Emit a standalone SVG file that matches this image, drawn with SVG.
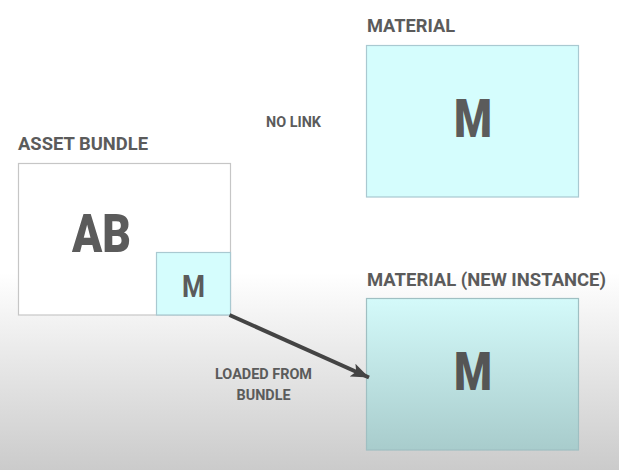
<svg xmlns="http://www.w3.org/2000/svg" width="619" height="470" viewBox="0 0 619 470">
<defs>
<linearGradient id="bg" x1="0" y1="0" x2="0" y2="470" gradientUnits="userSpaceOnUse">
<stop offset="0.58" stop-color="#ffffff"/>
<stop offset="1" stop-color="#cbcbcb"/>
</linearGradient>
<linearGradient id="newfill" x1="0" y1="0" x2="0" y2="1">
<stop offset="0" stop-color="#d4fafa"/>
<stop offset="1" stop-color="#a8cccc"/>
</linearGradient>
<marker id="arrow" markerUnits="userSpaceOnUse" markerWidth="20" markerHeight="14" refX="18" refY="7" orient="auto">
<path d="M0,0 L18,7 L0,14 L4,7 Z" fill="#444444"/>
</marker>
</defs>
<style>
.lbl{font-family:Roboto,"Liberation Sans",sans-serif;font-weight:bold;fill:#5b5b5b;}
.title{font-size:18.5px;}
.small{font-size:14px;}
.big{font-size:53px;text-anchor:middle;font-weight:900;}
.cyan{fill:#d5fdfd;stroke:#a9c9d1;stroke-width:1.2;}
.white{fill:#ffffff;stroke:#c6c6c6;stroke-width:1.2;}
</style>
<rect x="0" y="0" width="619" height="470" fill="url(#bg)"/>
<g id="asset-bundle">
<text class="lbl title" x="18" y="149.5" textLength="130" lengthAdjust="spacingAndGlyphs">ASSET BUNDLE</text>
<rect class="white" x="18.5" y="163.5" width="212" height="151.5"/>
<text class="lbl big" x="101.5" y="252" textLength="59" lengthAdjust="spacingAndGlyphs">AB</text>
</g>
<g id="bundle-material">
<rect class="cyan" x="156.5" y="252.5" width="74" height="62.5"/>
<text class="lbl" x="193.5" y="297" font-size="31" text-anchor="middle" textLength="23" lengthAdjust="spacingAndGlyphs">M</text>
</g>
<g id="material">
<text class="lbl title" x="367" y="31.5" textLength="88" lengthAdjust="spacingAndGlyphs">MATERIAL</text>
<rect class="cyan" x="366.5" y="45.5" width="212" height="151.5"/>
<text class="lbl big" x="473" y="136.5" font-size="54" textLength="38" lengthAdjust="spacingAndGlyphs">M</text>
</g>
<g id="material-new">
<text class="lbl title" x="367" y="285.5" textLength="239" lengthAdjust="spacingAndGlyphs">MATERIAL (NEW INSTANCE)</text>
<rect x="366.5" y="298.5" width="212" height="151.5" fill="url(#newfill)" stroke="#9fbfc2" stroke-width="1.2"/>
<text class="lbl big" x="473" y="390" font-size="54" textLength="38" lengthAdjust="spacingAndGlyphs" style="fill:#555555">M</text>
</g>
<g id="labels">
<text class="lbl small" x="266" y="127" textLength="55" lengthAdjust="spacingAndGlyphs">NO LINK</text>
<text class="lbl small" x="263.5" y="378.5" text-anchor="middle" textLength="97" lengthAdjust="spacingAndGlyphs">LOADED FROM</text>
<text class="lbl small" x="263.5" y="399.5" text-anchor="middle" textLength="54" lengthAdjust="spacingAndGlyphs">BUNDLE</text>
</g>
<g id="connectors">
<line x1="229.5" y1="315" x2="369" y2="377.5" stroke="#444444" stroke-width="4" marker-end="url(#arrow)"/>
</g>
</svg>
